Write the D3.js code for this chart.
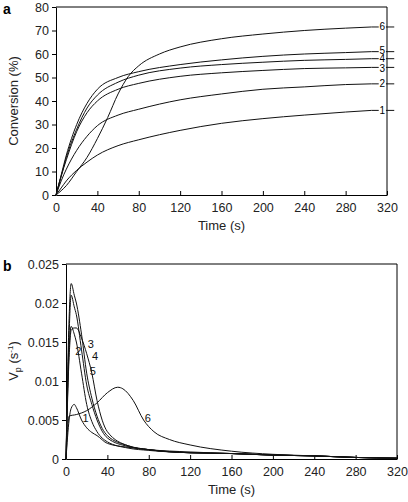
<!DOCTYPE html><html><head><script src="https://cdn.jsdelivr.net/npm/d3@7"></script>
<style>body{margin:0;background:#fff}text{font-family:"Liberation Sans",Arial,sans-serif}</style></head><body>
<svg id="s" width="408" height="502"></svg>
<script>
const tA=[0,5,10,20,30,40,60,80,120,160,200,240,280,305];
const conv1=[0,3,6,10.5,14,17,21,23.5,27.5,30.5,32.5,34,35.3,36];
const conv2=[0,6,11,19,25,29.5,34,36.5,40.5,43,45,46,47,47.3];
const conv3=[0,8,15,27,35,40,45,47.5,50.5,52,53,53.8,54.1,54.3];
const conv4=[0,8,16,28,37,42.5,48,51,54,55.5,56.5,57.3,57.7,58];
const conv5=[0,8.5,17,30,39,45,50,52.5,55.5,57.5,59,60,60.6,61];
const conv6T=[0,10,20,30,40,50,60,70,80,100,120,160,200,240,280,305];
const conv6=[0,4,10,16,24,33,43,50.5,55,60,63,66.5,68.5,70,71,71.5];
const tB=[0,3,5,8,10,15,20,25,30,40,60,80,120,160,200,240,280,320];
const vp1=[0,.005,.0065,.007,.0066,.005,.004,.0034,.003,.002,.0015,.0012,.0009,.0007,.0005,.0004,.0002,.0001];
const vp2=[0,.014,.017,.016,.015,.011,.007,.0048,.0035,.0022,.0014,.0011,.0008,.0007,.0005,.0004,.0002,.0001];
const vp3=[0,.013,.0165,.0168,.0168,.0155,.0135,.011,.0075,.0035,.0017,.0012,.0008,.0007,.0005,.0004,.0002,.0001];
const vp4=[0,.016,.021,.0195,.0185,.014,.0095,.007,.005,.0027,.0016,.0012,.0008,.0007,.0005,.0004,.0002,.0001];
const vp5=[0,.018,.0225,.021,.02,.016,.011,.0078,.0055,.003,.0017,.0012,.0008,.0007,.0005,.0004,.0002,.0001];
const tB6=[0,3,10,20,30,40,50,55,65,75,85,100,120,160,200,240,280,320];
const vp6=[0,.0055,.0057,.0062,.0072,.0085,.0092,.009,.0075,.005,.0035,.0025,.0018,.001,.0006,.0004,.0002,.0001];
const xTicks=[0,40,80,120,160,200,240,280,320];
const svg=d3.select("#s");
function panel(o){
 const x=d3.scaleLinear([0,320],[o.x0,o.x1]),y=d3.scaleLinear(o.yd,[o.yb,o.yt]);
 const g=svg.append("g");
 const xa=g.append("g").attr("transform",`translate(0,${o.yb})`).call(d3.axisBottom(x).tickValues(xTicks).tickSize(-4).tickSizeOuter(0).tickFormat(d3.format("d")));
 xa.selectAll("text").attr("dy","1.1em");
 g.append("g").attr("transform",`translate(${o.x0},0)`).call(d3.axisLeft(y).tickValues(o.yt2).tickSize(4).tickSizeOuter(0).tickFormat(o.fmt));
 g.append("line").attr("x1",o.x0).attr("x2",o.x1).attr("y1",o.yt).attr("y2",o.yt).attr("stroke","#000");
 g.append("line").attr("x1",o.x1).attr("x2",o.x1).attr("y1",o.yt).attr("y2",o.yb).attr("stroke","#000");
 g.selectAll(".tick text").attr("font-size",12.5).attr("fill","#222").style("font-family","Liberation Sans");
 g.selectAll(".domain").attr("stroke","#000");
 const ln=d3.line().x(d=>x(d[0])).y(d=>y(d[1])).curve(d3.curveMonotoneX);
 o.series.forEach(s=>g.append("path").attr("d",ln(s.t.map((t,i)=>[t,s.v[i]]))).attr("fill","none").attr("stroke","#111").attr("stroke-width",1));
 g.append("text").attr("x",(o.x0+o.x1)/2).attr("y",o.yb+35).attr("text-anchor","middle").attr("font-size",13).attr("fill","#222").text("Time (s)");
 g.append("text").attr("x",3).attr("y",o.yt+7).attr("font-size",14).attr("font-weight","bold").text(o.tag);
 return {x,y,g};
}
const A=panel({x0:56,x1:387,yt:7,yb:195,yd:[0,80],yt2:d3.range(0,81,10),fmt:d3.format("d"),tag:"a",
 series:[{t:tA,v:conv1},{t:tA,v:conv2},{t:tA,v:conv3},{t:tA,v:conv4},{t:tA,v:conv5},{t:conv6T,v:conv6}]});
A.g.append("text").attr("transform","translate(18,101) rotate(-90)").attr("text-anchor","middle").attr("font-size",13).attr("fill","#222").text("Conversion (%)");
[[conv1,"1",0],[conv2,"2",0],[conv3,"3",1],[conv4,"4",0],[conv5,"5",-1],[conv6,"6",0]].forEach(([v,l,dy])=>{
 const yy=A.y(v[v.length-1]);
 A.g.append("line").attr("x1",A.x(305)).attr("x2",A.x(312)).attr("y1",yy).attr("y2",yy).attr("stroke","#111");
 A.g.append("line").attr("x1",A.x(319)).attr("x2",A.x(327)).attr("y1",yy).attr("y2",yy).attr("stroke","#111");
 A.g.append("text").attr("x",A.x(315.5)).attr("y",yy+3.5+dy).attr("text-anchor","middle").attr("font-size",10).text(l);
});
const B=panel({x0:66,x1:397,yt:264,yb:459,yd:[0,.025],yt2:[0,.005,.01,.015,.02,.025],fmt:d=>d===0?"0":d3.format("")(+d.toFixed(3)),tag:"b",
 series:[{t:tB,v:vp1},{t:tB,v:vp2},{t:tB,v:vp3},{t:tB,v:vp4},{t:tB,v:vp5},{t:tB6,v:vp6}]});
const yl=B.g.append("text").attr("transform","translate(18,361) rotate(-90)").attr("text-anchor","middle").attr("font-size",13).attr("fill","#222");
yl.append("tspan").text("V");yl.append("tspan").attr("font-size",9).attr("dy",3).text("p");
yl.append("tspan").attr("dy",-3).text(" (s");yl.append("tspan").attr("font-size",8).attr("dy",-5).text("-1");yl.append("tspan").attr("dy",5).text(")");
[[12,.0133,"2"],[24,.0142,"3"],[28,.0127,"4"],[26,.0108,"5"],[19,.0047,"1"],[79,.0047,"6"]].forEach(([t,v,l])=>
 B.g.append("text").attr("x",B.x(t)).attr("y",B.y(v)).attr("text-anchor","middle").attr("font-size",11).attr("fill","#111").text(l));
</script></body></html>
